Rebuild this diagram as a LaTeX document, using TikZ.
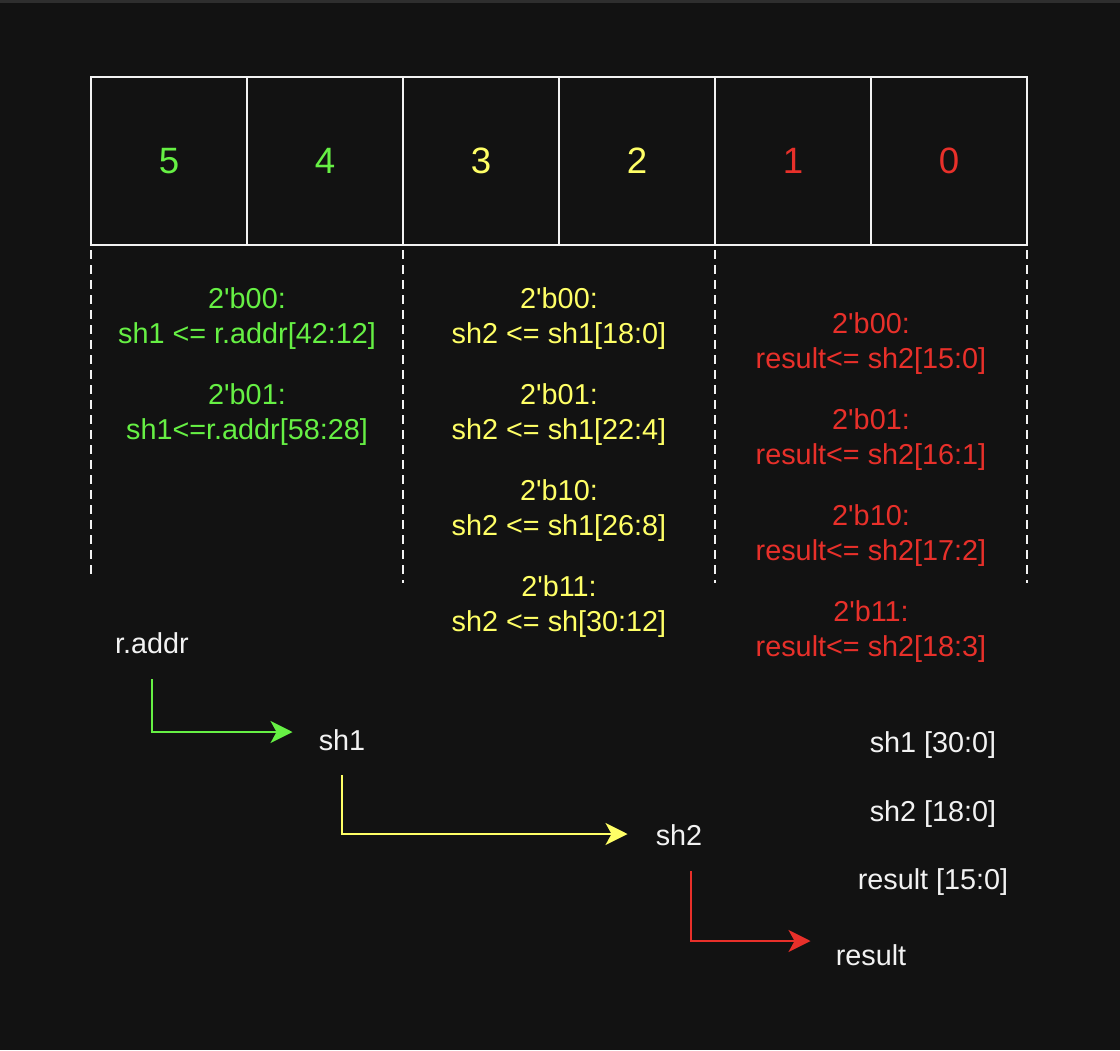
\documentclass[tikz,border=0pt]{standalone}
\usepackage{fontspec}
\newfontfamily\sketchfont{Liberation Sans}
\usetikzlibrary{positioning}
\usetikzlibrary{arrows.meta}

\definecolor{bg}{HTML}{121212}
\definecolor{topbar}{HTML}{2E2E2E}
\definecolor{fggreen}{HTML}{66F044}
\definecolor{fgyellow}{HTML}{FFFF66}
\definecolor{fgred}{HTML}{E8302A}
\definecolor{fgwhite}{HTML}{F2F2F2}

\begin{document}
\begin{tikzpicture}[x=0.75pt,y=-0.75pt]
\tikzset{cell/.style={rectangle,minimum width=117pt,minimum height=126pt, draw=fgwhite, line width=1.5pt, outer sep=0pt, inner sep=0pt, font=\sketchfont\fontsize{27.5}{32}\selectfont}}
\tikzset{code/.style={align=center, inner sep=0pt, font=\sketchfont\fontsize{21.6}{26.25}\selectfont}}
\tikzset{signal/.style={text=fgwhite, inner sep=0pt, font=\sketchfont\fontsize{21.6}{26.25}\selectfont}}
\tikzset{divider/.style={draw=fgwhite, line width=1.5pt, dash pattern=on 6.5pt off 4.75pt}}
\tikzset{flow/.style={line width=1.5pt, -{Stealth[length=16.5pt,width=16.5pt,inset=4.5pt]}}}
% background
\fill[bg] (0,0) rectangle (1120,1050);
\fill[topbar] (0,0) rectangle (1120,3);
\useasboundingbox (0,0) rectangle (1120,1050);
% register
\node[cell, text=fggreen, anchor=north west] (cell5) at (91,77) {5};
\node[cell, text=fggreen, right=0pt of cell5] (cell4) {4};
\node[cell, text=fgyellow, right=0pt of cell4] (cell3) {3};
\node[cell, text=fgyellow, right=0pt of cell3] (cell2) {2};
\node[cell, text=fgred, right=0pt of cell2] (cell1) {1};
\node[cell, text=fgred, right=0pt of cell1] (cell0) {0};
\draw[divider] ([yshift=-3.75pt]cell5.south west) -- ++(0,325);
\draw[divider] ([yshift=-3.75pt]cell3.south west) -- ++(0,333);
\draw[divider] ([yshift=-3.75pt]cell1.south west) -- ++(0,333);
\draw[divider] ([yshift=-3.75pt]cell0.south east) -- ++(0,333);
% cases
\node[code, text=fggreen] (caseone) at (247,367) {2'b00:\\sh1 <= r.addr[42:12]\\[19.5pt]2'b01:\\sh1<=r.addr[58:28]};
\node[code, text=fgyellow] (casetwo) at (559,463) {2'b00:\\sh2 <= sh1[18:0]\\[19.5pt]2'b01:\\sh2 <= sh1[22:4]\\[19.5pt]2'b10:\\sh2 <= sh1[26:8]\\[19.5pt]2'b11:\\sh2 <= sh[30:12]};
\node[code, text=fgred] (casethree) at (871,488) {2'b00:\\result<= sh2[15:0]\\[19.5pt]2'b01:\\result<= sh2[16:1]\\[19.5pt]2'b10:\\result<= sh2[17:2]\\[19.5pt]2'b11:\\result<= sh2[18:3]};
% signals
\node[signal] (raddr) at (152,643) {r.addr};
\node[signal] (shone) at (342,740) {sh1};
\node[signal] (shtwo) at (679,835) {sh2};
\node[signal] (result) at (871,955) {result};
\node[signal] (widthone) at (933,745) {sh1 [30:0]};
\node[signal] (widthtwo) at (933,814) {sh2 [18:0]};
\node[signal] (widththree) at (933,882) {result [15:0]};
\draw[flow, fggreen] ([yshift=-19pt]raddr.south) |- ([xshift=-19.5pt,yshift=6pt]shone.west);
\draw[flow, fgyellow] ([yshift=-18.4pt]shone.south) |- ([xshift=-21pt,yshift=0.75pt]shtwo.west);
\draw[flow, fgred] ([xshift=9pt,yshift=-19pt]shtwo.south) |- ([xshift=-18.75pt,yshift=10.5pt]result.west);
\end{tikzpicture}
\end{document}
